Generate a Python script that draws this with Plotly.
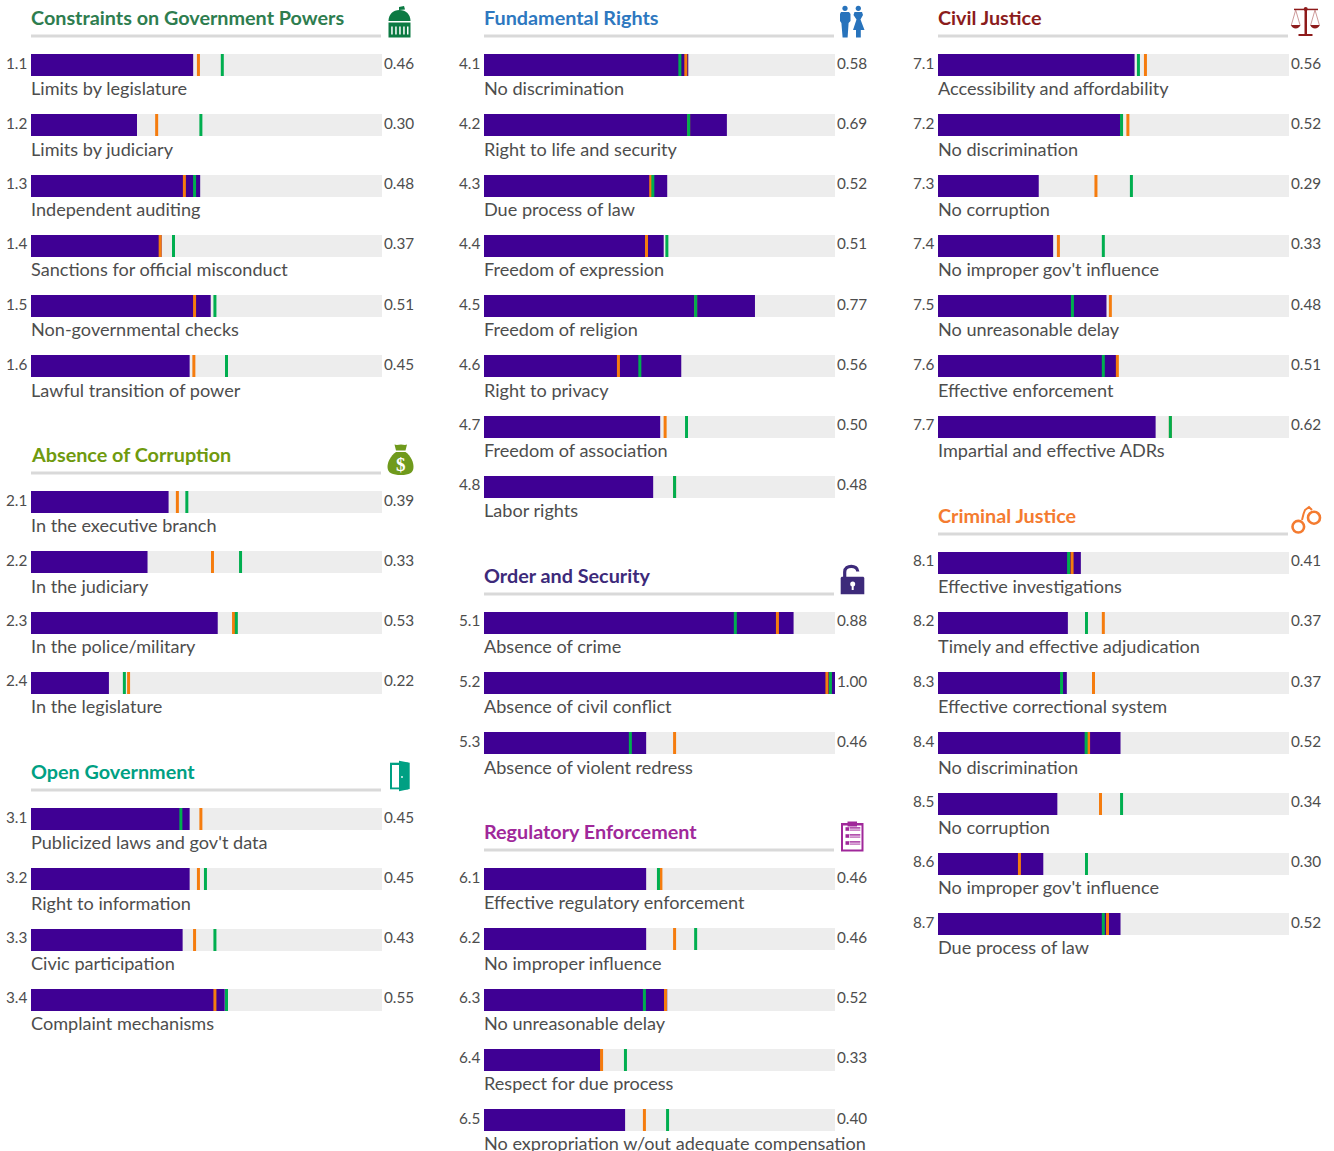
import math
import plotly.graph_objects as go

# ---------- data ----------
s1_title = "Constraints on Government Powers"
s1_ids = ["1.1", "1.2", "1.3", "1.4", "1.5", "1.6"]
s1_labels = ["Limits by legislature", "Limits by judiciary", "Independent auditing",
             "Sanctions for official misconduct", "Non-governmental checks", "Lawful transition of power"]
s1_values = [0.46, 0.30, 0.48, 0.37, 0.51, 0.45]
s1_orange = [0.477, 0.358, 0.437, 0.368, 0.466, 0.464]
s1_green = [0.545, 0.484, 0.466, 0.406, 0.524, 0.557]

s2_title = "Absence of Corruption"
s2_ids = ["2.1", "2.2", "2.3", "2.4"]
s2_labels = ["In the executive branch", "In the judiciary", "In the police/military", "In the legislature"]
s2_values = [0.39, 0.33, 0.53, 0.22]
s2_orange = [0.417, 0.517, 0.577, 0.278]
s2_green = [0.444, 0.597, 0.585, 0.266]

s3_title = "Open Government"
s3_ids = ["3.1", "3.2", "3.3", "3.4"]
s3_labels = ["Publicized laws and gov't data", "Right to information", "Civic participation", "Complaint mechanisms"]
s3_values = [0.45, 0.45, 0.43, 0.55]
s3_orange = [0.484, 0.477, 0.466, 0.524]
s3_green = [0.427, 0.497, 0.524, 0.557]

s4_title = "Fundamental Rights"
s4_ids = ["4.1", "4.2", "4.3", "4.4", "4.5", "4.6", "4.7", "4.8"]
s4_labels = ["No discrimination", "Right to life and security", "Due process of law", "Freedom of expression",
             "Freedom of religion", "Right to privacy", "Freedom of association", "Labor rights"]
s4_values = [0.58, 0.69, 0.52, 0.51, 0.77, 0.56, 0.50, 0.48]
s4_orange = [0.575, 0.583, 0.475, 0.463, 0.603, 0.383, 0.516, 0.543]
s4_green = [0.558, 0.583, 0.481, 0.521, 0.603, 0.444, 0.577, 0.543]

s5_title = "Order and Security"
s5_ids = ["5.1", "5.2", "5.3"]
s5_labels = ["Absence of crime", "Absence of civil conflict", "Absence of violent redress"]
s5_values = [0.88, 1.00, 0.46]
s5_orange = [0.836, 0.977, 0.543]
s5_green = [0.716, 0.987, 0.417]

s6_title = "Regulatory Enforcement"
s6_ids = ["6.1", "6.2", "6.3", "6.4", "6.5"]
s6_labels = ["Effective regulatory enforcement", "No improper influence", "No unreasonable delay",
             "Respect for due process", "No expropriation w/out adequate compensation"]
s6_values = [0.46, 0.46, 0.52, 0.33, 0.40]
s6_orange = [0.504, 0.543, 0.517, 0.335, 0.457]
s6_green = [0.497, 0.603, 0.457, 0.403, 0.523]

s7_title = "Civil Justice"
s7_ids = ["7.1", "7.2", "7.3", "7.4", "7.5", "7.6", "7.7"]
s7_labels = ["Accessibility and affordability", "No discrimination", "No corruption", "No improper gov't influence",
             "No unreasonable delay", "Effective enforcement", "Impartial and effective ADRs"]
s7_values = [0.56, 0.52, 0.287, 0.328, 0.48, 0.51, 0.62]
s7_orange = [0.591, 0.541, 0.450, 0.343, 0.491, 0.511, 0.662]
s7_green = [0.571, 0.523, 0.551, 0.471, 0.383, 0.471, 0.662]

s8_title = "Criminal Justice"
s8_ids = ["8.1", "8.2", "8.3", "8.4", "8.5", "8.6", "8.7"]
s8_labels = ["Effective investigations", "Timely and effective adjudication", "Effective correctional system",
             "No discrimination", "No corruption", "No improper gov't influence", "Due process of law"]
s8_values = [0.407, 0.37, 0.367, 0.52, 0.34, 0.30, 0.52]
s8_orange = [0.382, 0.471, 0.443, 0.429, 0.463, 0.232, 0.483]
s8_green = [0.372, 0.423, 0.352, 0.422, 0.523, 0.423, 0.471]

# ---------- styles ----------
W, H = 1334, 1151
FONT = "Lato, 'Open Sans', sans-serif"
PURPLE, TRACK, ORANGE, GREEN = "#3F0094", "#EDEDED", "#F57C0E", "#00AE4F"
TEXT, RULE = "#4D4D4D", "#D9D9D9"
BAR_H, PITCH = 22, 60.25
COL_X = [31, 484, 938]
COL_PAD = [0.002, 0.002, 0.0]
BAR_W = 351
TICK = 3 / BAR_W

columns = [
    [(54, s1_title, "#2E7D4F", s1_ids, s1_labels, s1_values, s1_orange, s1_green),
     (491, s2_title, "#6F9A0E", s2_ids, s2_labels, s2_values, s2_orange, s2_green),
     (808, s3_title, "#00A083", s3_ids, s3_labels, s3_values, s3_orange, s3_green)],
    [(54, s4_title, "#2E78C0", s4_ids, s4_labels, s4_values, s4_orange, s4_green),
     (611.75, s5_title, "#3D2A7A", s5_ids, s5_labels, s5_values, s5_orange, s5_green),
     (868, s6_title, "#A0289A", s6_ids, s6_labels, s6_values, s6_orange, s6_green)],
    [(54, s7_title, "#8B1C1C", s7_ids, s7_labels, s7_values, s7_orange, s7_green),
     (551.5, s8_title, "#F47B30", s8_ids, s8_labels, s8_values, s8_orange, s8_green)],
]

fig = go.Figure()
annotations, shapes = [], []


def note(x, y, text, size, color, xanchor="left", bold=False):
    annotations.append(dict(xref="x4", yref="y", x=x, y=y, text=f"<b>{text}</b>" if bold else text,
                            showarrow=False, xanchor=xanchor, yanchor="middle",
                            font=dict(family=FONT, size=size, color=color), borderpad=0, borderwidth=0))


for c, sections in enumerate(columns):
    xname = "x" if c == 0 else f"x{c + 1}"
    px0 = COL_X[c]
    for top, title, tcolor, ids, labels, values, orange, green in sections:
        floats = [top + PITCH * i for i in range(len(ids))]
        ys = [math.floor(f + 0.5) for f in floats]
        centers = [y + BAR_H / 2 for y in ys]
        rule_y = ys[0] - 18
        common = dict(y=centers, orientation="h", width=BAR_H, xaxis=xname, yaxis="y", hoverinfo="skip", showlegend=False)
        fig.add_trace(go.Bar(x=[1] * len(ids), marker=dict(color=TRACK, line_width=0), **common))
        fig.add_trace(go.Bar(x=[v + COL_PAD[c] for v in values], marker=dict(color=PURPLE, line_width=0), **common))
        for vals, col in ((orange, ORANGE), (green, GREEN)):
            fig.add_trace(go.Bar(x=[TICK] * len(vals), base=[v - TICK / 2 for v in vals],
                                 marker=dict(color=col, line_width=0), **common))
        note(px0, rule_y - 19.3, title, 19.8, tcolor, bold=True)
        shapes.append(dict(type="line", xref=xname, yref="y", x0=0, x1=350 / 351, y0=rule_y, y1=rule_y,
                           line=dict(color=RULE, width=3)))
        for f, id_, lab, val in zip(floats, ids, labels, values):
            note(px0 - 4, f + 8.7, id_, 15.3, TEXT, xanchor="right")
            note(px0 + BAR_W + 2, f + 8.7, f"{val:.2f}", 15.3, TEXT)
            note(px0, f + 34.3, lab, 18.1, TEXT)


def rect(x0, y0, x1, y1, col):
    shapes.append(dict(type="rect", xref="x4", yref="y", x0=x0, x1=x1, y0=y0, y1=y1, fillcolor=col, line_width=0, layer="above"))


def path(d, col, stroke=None, width=0):
    shapes.append(dict(type="path", xref="x4", yref="y", path=d, fillcolor=col, layer="above",
                       line=dict(color=stroke or col, width=width)))


def circle(cx, cy, r, fill, stroke=None, width=0):
    shapes.append(dict(type="circle", xref="x4", yref="y", x0=cx - r, x1=cx + r, y0=cy - r, y1=cy + r,
                       fillcolor=fill, layer="above", line=dict(color=stroke or fill, width=width)))


# courthouse
G = "#0C7A43"
path("M399,7 L404,6 L405,9.5 L399,10 Z", G)
path("M388.5,21 C388.5,14.5 393,10 399.5,10 C406,10 410.5,14.5 410.5,21 Z", G)
rect(388.5, 22.5, 410.5, 37.5, G)
for gx in (391.2, 395.2, 399.2, 403.2, 407.0):
    rect(gx, 26.5, gx + 1.5, 34.5, "white")

# people
B = "#2873BC"
circle(845, 8.3, 2.6, B)
path("M841,12 L849,12 L850.5,14 L850.5,21 L848.6,23 L847.6,37.5 L842.6,37.5 L841.4,23 L840,21 L840,14 Z", B)
circle(858.3, 8.3, 2.6, B)
path("M854.5,12 L862,12 L863,15 L860.5,19.5 L864.5,30 L860.8,30 L860.8,37.5 L856,37.5 L856,30 L853,30 L856.5,19.5 L853.5,15 Z", B)

# scales
R = "#8E1B1B"
rect(1304.5, 8.5, 1307, 34, R)
circle(1305.7, 9, 2, R)
rect(1294, 8.7, 1318, 10.2, R)
rect(1298.5, 34, 1312.5, 36, R)
for cx in (1295.7, 1315):
    path(f"M{cx},10 L{cx - 4.5},25.5 L{cx + 4.5},25.5 Z", "rgba(0,0,0,0)", stroke="#C08080", width=0.8)
    path(f"M{cx - 4.5},25 L{cx + 4.5},25 C{cx + 4},29.5 {cx - 4},29.5 {cx - 4.5},25 Z", R)

# money bag
M = "#6F9A1C"
path("M394.5,444.5 C397,445.5 399,444.5 401,444.5 C403,444.5 405,445.5 407,444.5 L405.5,450.5 L396,450.5 Z", M)
path("M396,452 L405.5,452 C411,456 413.5,462 413.5,467 C413.5,473 409,475 401,475 C392.5,475 387.5,473 387.5,467 C387.5,462 390.5,456 396,452 Z", M)
annotations.append(dict(xref="x4", yref="y", x=400.5, y=464, text="<b>$</b>", showarrow=False,
                        font=dict(family="'Liberation Serif', serif", size=19, color="white")))

# door
D = "#00A083"
rect(390, 762.7, 408, 789.3, D)
rect(392, 765, 399, 787.5, "white")
path("M399,760.7 L409.7,762.7 L409.7,789 L399,791.3 Z", D)
circle(402, 777, 0.9, "white")

# lock
L = "#3D2A7A"
path("M844.7,577 L844.7,572 C844.7,568 848,566.3 851.3,566.3 C854.6,566.3 857.6,568 857.8,571.5", "rgba(0,0,0,0)", stroke=L, width=3.2)
path("M842.5,576.7 L862.5,576.7 C863.7,576.7 864.3,577.3 864.3,578.5 L864.3,594.3 L840.7,594.3 L840.7,578.5 C840.7,577.3 841.3,576.7 842.5,576.7 Z", L)
circle(852.7, 584, 2.5, "white")
rect(851.7, 585, 853.7, 590, "white")

# clipboard
P = "#A0289A"
rect(841, 823, 863.5, 851.5, P)
rect(843, 825.5, 861.5, 849.5, "white")
rect(847.5, 821.5, 857, 826.5, P)
for cy in (829, 836, 843):
    rect(845.5, cy - 1.8, 849, cy + 1.8, P)
    rect(849.5, cy - 1.8, 860.3, cy - 0.4, P)
    rect(849.5, cy + 0.4, 860.3, cy + 1.8, "#C06CBC")

# handcuffs
O = "#F47B30"
circle(1298.3, 526.7, 5.8, "rgba(0,0,0,0)", stroke=O, width=2.6)
circle(1314, 517.7, 6, "rgba(0,0,0,0)", stroke=O, width=2.6)
path("M1302,520 L1303.5,514 L1305,510 L1309,507 L1312,510", "rgba(0,0,0,0)", stroke=O, width=2)

axis_off = dict(visible=False, fixedrange=True)
layout_axes = {}
for c, x0 in enumerate(COL_X):
    name = "xaxis" if c == 0 else f"xaxis{c + 1}"
    layout_axes[name] = dict(domain=[x0 / W, (x0 + BAR_W) / W], range=[0, 1], anchor="y", **axis_off)

fig.update_layout(
    width=W, height=H, autosize=False,
    margin=dict(l=0, r=0, t=0, b=0), paper_bgcolor="white", plot_bgcolor="rgba(0,0,0,0)",
    barmode="overlay", showlegend=False,
    yaxis=dict(domain=[0, 1], range=[H, 0], **axis_off),
    xaxis4=dict(domain=[0, 1], range=[0, W], anchor="y", **axis_off),
    annotations=annotations, shapes=shapes,
    **layout_axes,
)
fig.write_html("out.html", config=dict(displayModeBar=False),
               post_script="document.body.style.margin='0';document.documentElement.style.overflow='hidden';")
